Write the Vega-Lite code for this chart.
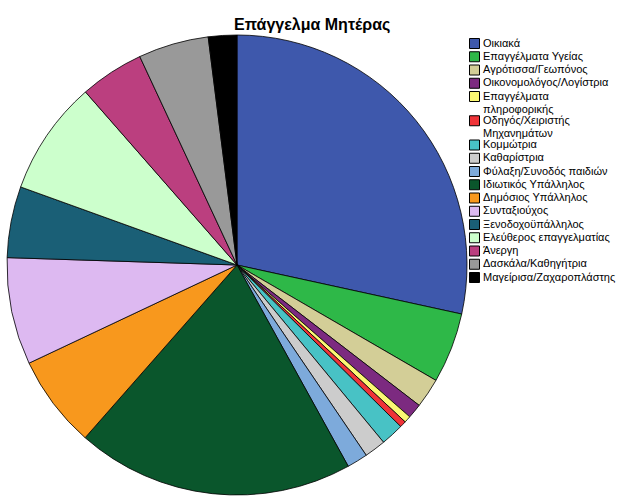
{
  "$schema": "https://vega.github.io/schema/vega-lite/v6.json",
  "autosize": {"type": "none"},
  "width": 460,
  "height": 460,
  "padding": {"left": 7, "top": 35, "right": 159, "bottom": 6},
  "background": "white",
  "title": {
    "text": "Επάγγελμα Μητέρας",
    "font": "Liberation Sans",
    "fontSize": 16,
    "fontWeight": "bold",
    "color": "black",
    "anchor": "middle",
    "frame": "bounds",
    "offset": 0
  },
  "data": {
    "values": [
      {"job": "Οικιακά", "deg": 102.3, "ord": 1},
      {"job": "Επαγγέλματα Υγείας", "deg": 17.8, "ord": 2},
      {"job": "Αγρότισσα/Γεωπόνος", "deg": 7.5, "ord": 3},
      {"job": "Οικονομολόγος/Λογίστρια", "deg": 3.7, "ord": 4},
      {"job": "Επαγγέλματα πληροφορικής", "deg": 1.7, "ord": 5},
      {"job": "Οδηγός/Χειριστής Μηχανημάτων", "deg": 1.6, "ord": 6},
      {"job": "Κομμώτρια", "deg": 5.8, "ord": 7},
      {"job": "Καθαρίστρια", "deg": 5.4, "ord": 8},
      {"job": "Φύλαξη/Συνοδός παιδιών", "deg": 5.25, "ord": 9},
      {"job": "Ιδιωτικός Υπάλληλος", "deg": 70.25, "ord": 10},
      {"job": "Δημόσιος Υπάλληλος", "deg": 23.4, "ord": 11},
      {"job": "Συνταξιούχος", "deg": 27.1, "ord": 12},
      {"job": "Ξενοδοχοϋπάλληλος", "deg": 18.0, "ord": 13},
      {"job": "Ελεύθερος επαγγελματίας", "deg": 28.95, "ord": 14},
      {"job": "Άνεργη", "deg": 16.2, "ord": 15},
      {"job": "Δασκάλα/Καθηγήτρια", "deg": 17.8, "ord": 16},
      {"job": "Μαγείρισα/Ζαχαροπλάστης", "deg": 7.2, "ord": 17}
    ]
  },
  "mark": {"type": "arc", "radius": 230, "stroke": "black", "strokeWidth": 0.8},
  "encoding": {
    "theta": {"field": "deg", "type": "quantitative", "stack": true},
    "order": {"field": "ord", "type": "quantitative"},
    "color": {
      "field": "job",
      "type": "nominal",
      "scale": {
        "domain": [
          "Οικιακά",
          "Επαγγέλματα Υγείας",
          "Αγρότισσα/Γεωπόνος",
          "Οικονομολόγος/Λογίστρια",
          "Επαγγέλματα πληροφορικής",
          "Οδηγός/Χειριστής Μηχανημάτων",
          "Κομμώτρια",
          "Καθαρίστρια",
          "Φύλαξη/Συνοδός παιδιών",
          "Ιδιωτικός Υπάλληλος",
          "Δημόσιος Υπάλληλος",
          "Συνταξιούχος",
          "Ξενοδοχοϋπάλληλος",
          "Ελεύθερος επαγγελματίας",
          "Άνεργη",
          "Δασκάλα/Καθηγήτρια",
          "Μαγείρισα/Ζαχαροπλάστης"
        ],
        "range": [
          "#3E58AC",
          "#2EB848",
          "#D3CE97",
          "#7C2A80",
          "#FBF873",
          "#EF3338",
          "#48C2C5",
          "#CCCCCC",
          "#7DAADB",
          "#0A562C",
          "#F8981D",
          "#DDB9F1",
          "#1A5F76",
          "#CCFFCC",
          "#BB3F7F",
          "#999999",
          "#000000"
        ]
      },
      "legend": {
        "title": null,
        "orient": "right",
        "offset": -1,
        "padding": 3,
        "symbolType": "square",
        "symbolSize": 100,
        "symbolStrokeColor": "black",
        "symbolStrokeWidth": 1,
        "symbolOpacity": 1,
        "labelFont": "Liberation Sans",
        "labelFontSize": 11,
        "labelColor": "black",
        "labelOffset": 3,
        "labelLimit": 200,
        "rowPadding": -1.75,
        "labelExpr": "datum.label == 'Επαγγέλματα πληροφορικής' ? ['Επαγγέλματα', 'πληροφορικής'] : datum.label == 'Οδηγός/Χειριστής Μηχανημάτων' ? ['Οδηγός/Χειριστής', 'Μηχανημάτων'] : datum.label"
      }
    }
  },
  "config": {"view": {"stroke": null}}
}
